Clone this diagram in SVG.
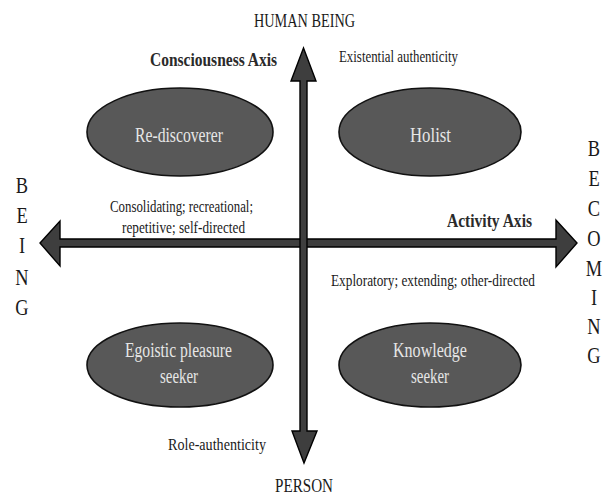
<svg xmlns="http://www.w3.org/2000/svg" width="608" height="498" viewBox="0 0 608 498">
<style>
text{font-family:"Liberation Serif","Times New Roman",serif;fill:#1a1a1a}
.lbl{font-size:16.5px}
.ax{font-size:19px;font-weight:bold;fill:#2a2a2a}
.pole{font-size:18px}
.node ellipse{fill:#585858;stroke:#111;stroke-width:1.6}
.node text{font-size:20px;fill:#e6e6e6}
.arrow{fill:#3e3e3e;stroke:#000;stroke-width:1.4;stroke-linejoin:miter}
.let{font-size:23px;text-anchor:middle}
</style>
<rect width="608" height="498" fill="#fff"/>
<g id="connectors">
<polygon class="arrow" points="60,239 556,239 556,220 577,243 556,267 556,247 60,247 60,266 40,243 60,221"/>
<polygon class="arrow" points="300,81 291,81 303.5,48 316,81 307,81 307,431 317,431 304,463 292,431 300,431"/>
</g>
<g id="node-rediscoverer" class="node">
<ellipse cx="180" cy="132" rx="93" ry="44"/>
<text x="135" y="142" textLength="88" lengthAdjust="spacingAndGlyphs">Re-discoverer</text>
</g>
<g id="node-holist" class="node">
<ellipse cx="430" cy="132" rx="91" ry="44"/>
<text x="410" y="142" textLength="41" lengthAdjust="spacingAndGlyphs">Holist</text>
</g>
<g id="node-egoistic" class="node">
<ellipse cx="180" cy="365" rx="93" ry="42"/>
<text x="125" y="357" textLength="107" lengthAdjust="spacingAndGlyphs">Egoistic pleasure</text>
<text x="160" y="383" textLength="38" lengthAdjust="spacingAndGlyphs">seeker</text>
</g>
<g id="node-knowledge" class="node">
<ellipse cx="430" cy="365" rx="91" ry="42"/>
<text x="393" y="357" textLength="74" lengthAdjust="spacingAndGlyphs">Knowledge</text>
<text x="411" y="383" textLength="38" lengthAdjust="spacingAndGlyphs">seeker</text>
</g>
<g id="labels">
<text class="pole" x="254" y="27" textLength="101" lengthAdjust="spacingAndGlyphs">HUMAN BEING</text>
<text class="pole" x="275" y="492" textLength="58" lengthAdjust="spacingAndGlyphs">PERSON</text>
<text class="ax" x="150" y="66" textLength="127" lengthAdjust="spacingAndGlyphs">Consciousness Axis</text>
<text class="ax" x="447" y="227" textLength="85" lengthAdjust="spacingAndGlyphs">Activity Axis</text>
<text class="lbl" x="339" y="62" textLength="119" lengthAdjust="spacingAndGlyphs">Existential authenticity</text>
<text class="lbl" x="110" y="212" textLength="143" lengthAdjust="spacingAndGlyphs">Consolidating; recreational;</text>
<text class="lbl" x="122" y="233" textLength="123" lengthAdjust="spacingAndGlyphs">repetitive; self-directed</text>
<text class="lbl" x="331" y="286" textLength="204" lengthAdjust="spacingAndGlyphs">Exploratory; extending; other-directed</text>
<text class="lbl" x="168" y="450" textLength="98" lengthAdjust="spacingAndGlyphs">Role-authenticity</text>
</g>
<g id="being" transform="translate(22,0) scale(0.8,1)">
<text class="let" x="0" y="193">B</text>
<text class="let" x="0" y="223">E</text>
<text class="let" x="0" y="253">I</text>
<text class="let" x="0" y="285">N</text>
<text class="let" x="0" y="315">G</text>
</g>
<g id="becoming" transform="translate(594,0) scale(0.8,1)">
<text class="let" x="0" y="156">B</text>
<text class="let" x="0" y="186">E</text>
<text class="let" x="0" y="216">C</text>
<text class="let" x="0" y="246">O</text>
<text class="let" x="0" y="276">M</text>
<text class="let" x="0" y="305">I</text>
<text class="let" x="0" y="334">N</text>
<text class="let" x="0" y="363">G</text>
</g>
</svg>
